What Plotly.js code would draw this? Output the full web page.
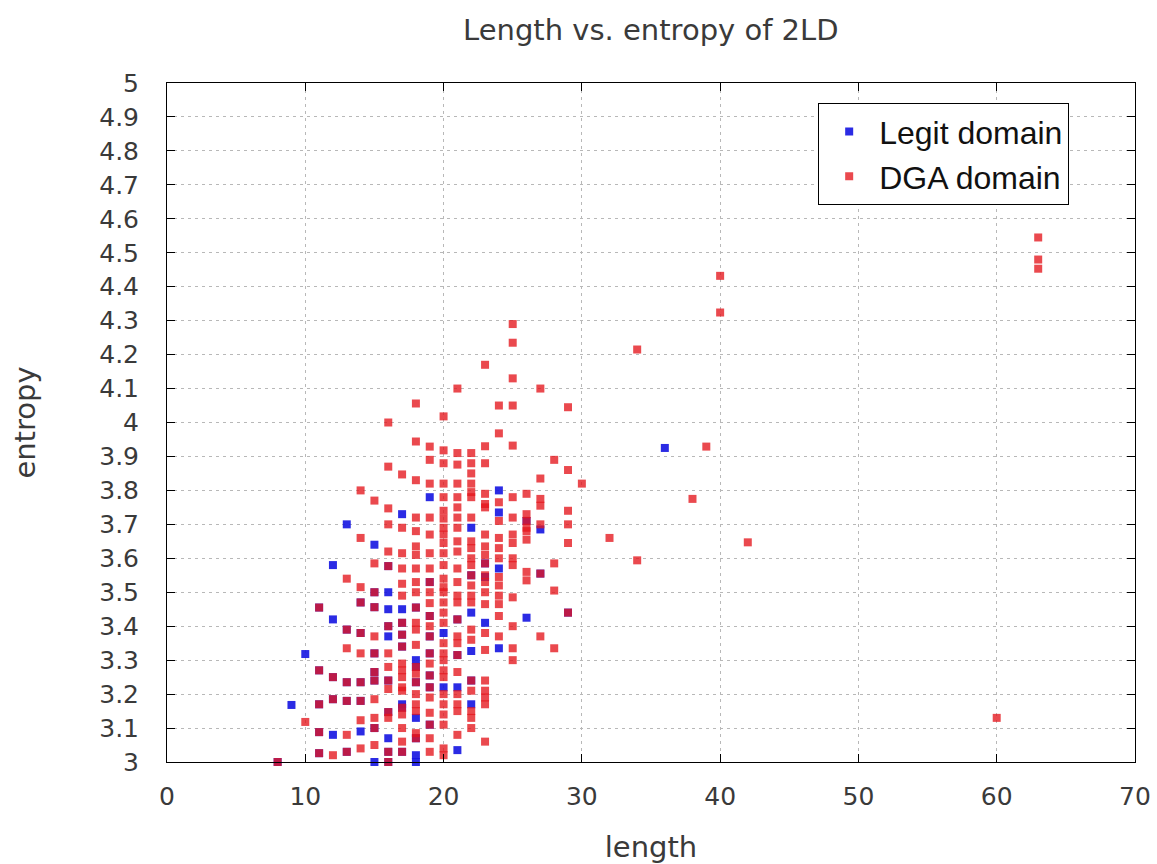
<!DOCTYPE html>
<html>
<head>
<meta charset="utf-8">
<script src="https://cdn.plot.ly/plotly-3.0.1.min.js"></script>
<style>html,body{margin:0;padding:0;background:#fff}#chart{width:1157px;height:864px}</style>
</head>
<body>
<div id="chart"></div>
<script>
// Legit domains: [length, entropy]
const legitLength = [
  8,9,10,
  11,11,11,11,11,
  12,12,12,12,12,
  13,13,13,13,13,
  14,14,14,14,14,
  15,15,15,15,15,15,15,15,
  16,16,16,16,16,16,16,16,16,16,
  17,17,17,17,17,17,17,17,
  18,18,18,18,18,18,18,18,
  19,19,19,19,19,19,19,19,
  20,20,
  21,21,21,21,
  22,22,22,22,22,22,
  23,23,23,
  24,24,24,24,
  26,26,
  27,27,
  29,
  36
];
const legitEntropy = [
  3.0,3.168,3.318,
  3.455,3.27,3.17,3.088,3.026,
  3.58,3.42,3.25,3.185,3.08,
  3.70,3.39,3.235,3.18,3.03,
  3.47,3.38,3.235,3.18,3.09,
  3.64,3.50,3.456,3.32,3.265,3.24,3.10,3.0,
  3.577,3.50,3.45,3.40,3.37,3.24,3.147,3.07,3.03,3.0,
  3.73,3.45,3.41,3.375,3.34,3.17,3.16,3.03,
  3.455,3.30,3.28,3.235,3.13,3.07,3.02,3.0,
  3.78,3.53,3.43,3.37,3.32,3.255,3.22,3.11,
  3.38,3.22,
  3.42,3.315,3.22,3.035,
  3.69,3.55,3.44,3.327,3.24,3.17,
  3.585,3.545,3.41,
  3.80,3.735,3.57,3.335,
  3.71,3.425,
  3.685,3.555,
  3.44,
  3.925
];

// DGA domains: entropy values per length column
const dgaColumns = {
  8: [3.0],
  10: [3.118],
  11: [3.455,3.27,3.17,3.088,3.026],
  12: [3.25,3.185,3.02],
  13: [3.54,3.39,3.335,3.235,3.18,3.08,3.03],
  14: [3.80,3.66,3.515,3.47,3.38,3.32,3.235,3.18,3.123,3.04],
  15: [3.77,3.585,3.50,3.456,3.37,3.32,3.265,3.24,3.185,3.13,3.10,3.05],
  16: [4.0,3.87,3.747,3.70,3.62,3.577,3.40,3.32,3.28,3.24,3.215,3.147,3.13,3.03,3.0],
  17: [3.847,3.69,3.615,3.57,3.525,3.49,3.41,3.375,3.34,3.29,3.27,3.25,3.22,3.21,3.16,3.14,3.10,3.06,3.03],
  18: [4.056,3.944,3.83,3.72,3.68,3.635,3.61,3.57,3.53,3.50,3.455,3.41,3.39,3.345,3.28,3.26,3.235,3.20,3.17,3.15,3.085,3.07],
  19: [3.929,3.89,3.82,3.72,3.67,3.615,3.57,3.53,3.50,3.468,3.43,3.40,3.37,3.32,3.29,3.255,3.22,3.19,3.145,3.11,3.07,3.03],
  20: [4.018,3.918,3.88,3.82,3.78,3.74,3.717,3.69,3.67,3.645,3.615,3.58,3.54,3.515,3.50,3.47,3.44,3.41,3.35,3.32,3.30,3.27,3.25,3.20,3.17,3.14,3.11,3.04,3.02],
  21: [4.10,3.91,3.876,3.82,3.78,3.75,3.72,3.69,3.65,3.62,3.57,3.53,3.49,3.47,3.42,3.37,3.35,3.315,3.265,3.20,3.17,3.15,3.08],
  22: [3.91,3.88,3.85,3.82,3.795,3.78,3.72,3.65,3.63,3.60,3.58,3.55,3.52,3.49,3.47,3.39,3.36,3.24,3.21,3.15,3.13,3.10],
  23: [4.17,3.93,3.88,3.79,3.76,3.75,3.67,3.635,3.61,3.585,3.55,3.53,3.50,3.465,3.38,3.33,3.24,3.21,3.19,3.17,3.06],
  24: [4.05,3.968,3.765,3.71,3.66,3.63,3.60,3.545,3.52,3.49,3.465,3.43,3.37],
  25: [4.29,4.235,4.13,4.05,3.932,3.78,3.72,3.67,3.645,3.60,3.58,3.485,3.40,3.335,3.30],
  26: [3.79,3.73,3.71,3.69,3.68,3.655,3.56,3.535],
  27: [4.10,3.835,3.775,3.755,3.70,3.555,3.37],
  28: [3.89,3.585,3.505,3.335],
  29: [4.045,3.86,3.74,3.70,3.645,3.44],
  30: [3.82],
  32: [3.66],
  34: [4.215,3.594],
  38: [3.775],
  39: [3.929],
  40: [4.432,4.324],
  42: [3.647],
  60: [3.13],
  63: [4.545,4.48,4.453]
};
const dgaLength = [];
const dgaEntropy = [];
Object.keys(dgaColumns).forEach(k => {
  dgaColumns[k].forEach(v => { dgaLength.push(Number(k)); dgaEntropy.push(v); });
});

const xTicks = [0,10,20,30,40,50,60,70];
const yTicks = [3,3.1,3.2,3.3,3.4,3.5,3.6,3.7,3.8,3.9,4,4.1,4.2,4.3,4.4,4.5,4.6,4.7,4.8,4.9,5];

const tickFont = {family: 'DejaVu Sans', size: 25, color: '#3a3a3a'};
const titleFont = {family: 'DejaVu Sans', size: 29, color: '#3a3a3a'};

const traces = [
  {
    type: 'scatter', mode: 'markers', name: 'Legit domain',
    x: legitLength, y: legitEntropy,
    marker: {symbol: 'square', size: 8, color: 'rgb(20,20,225)', opacity: 0.9, line: {width: 0}},
    cliponaxis: false, legendgroup: 'a'
  },
  {
    type: 'scatter', mode: 'markers', name: 'DGA domain',
    x: dgaLength, y: dgaEntropy,
    marker: {symbol: 'square', size: 8, color: 'rgb(228,22,28)', opacity: 0.78, line: {width: 0}},
    cliponaxis: false, legendgroup: 'b'
  }
];

const axisCommon = {
  showline: true, linecolor: '#000', linewidth: 1, mirror: 'ticks',
  ticks: 'inside', ticklen: 8, tickcolor: '#000', tickwidth: 1,
  showgrid: true, gridcolor: '#b8b8b8', gridwidth: 1, griddash: '3px,4px',
  zeroline: false, tickfont: tickFont
};

const layout = {
  width: 1157, height: 864,
  paper_bgcolor: '#fff', plot_bgcolor: '#fff',
  margin: {l: 167, r: 22, t: 83, b: 102},
  title: {text: 'Length vs. entropy of 2LD', font: titleFont, x: 0.5625, xanchor: 'center', y: 0.965, yanchor: 'middle'},
  xaxis: Object.assign({}, axisCommon, {
    range: [0, 70], tickvals: xTicks, ticktext: xTicks.map(String),
    ticklabelstandoff: 12,
    title: {text: 'length', font: titleFont, standoff: 28}
  }),
  yaxis: Object.assign({}, axisCommon, {
    range: [3, 5], tickvals: yTicks, ticktext: yTicks.map(v => String(v)),
    ticklabelstandoff: 22,
    title: {text: 'entropy', font: titleFont, standoff: 55}
  }),
  legend: {
    x: 0.6725, y: 0.9705, xanchor: 'left', yanchor: 'top',
    bgcolor: '#fff', bordercolor: '#000', borderwidth: 1.2,
    font: {family: 'Liberation Sans', size: 32, color: '#111'},
    traceorder: 'grouped', tracegroupgap: 0, itemwidth: 50
  },
  showlegend: true
};

Plotly.newPlot('chart', traces, layout, {displayModeBar: false, staticPlot: true});
</script>
</body>
</html>
